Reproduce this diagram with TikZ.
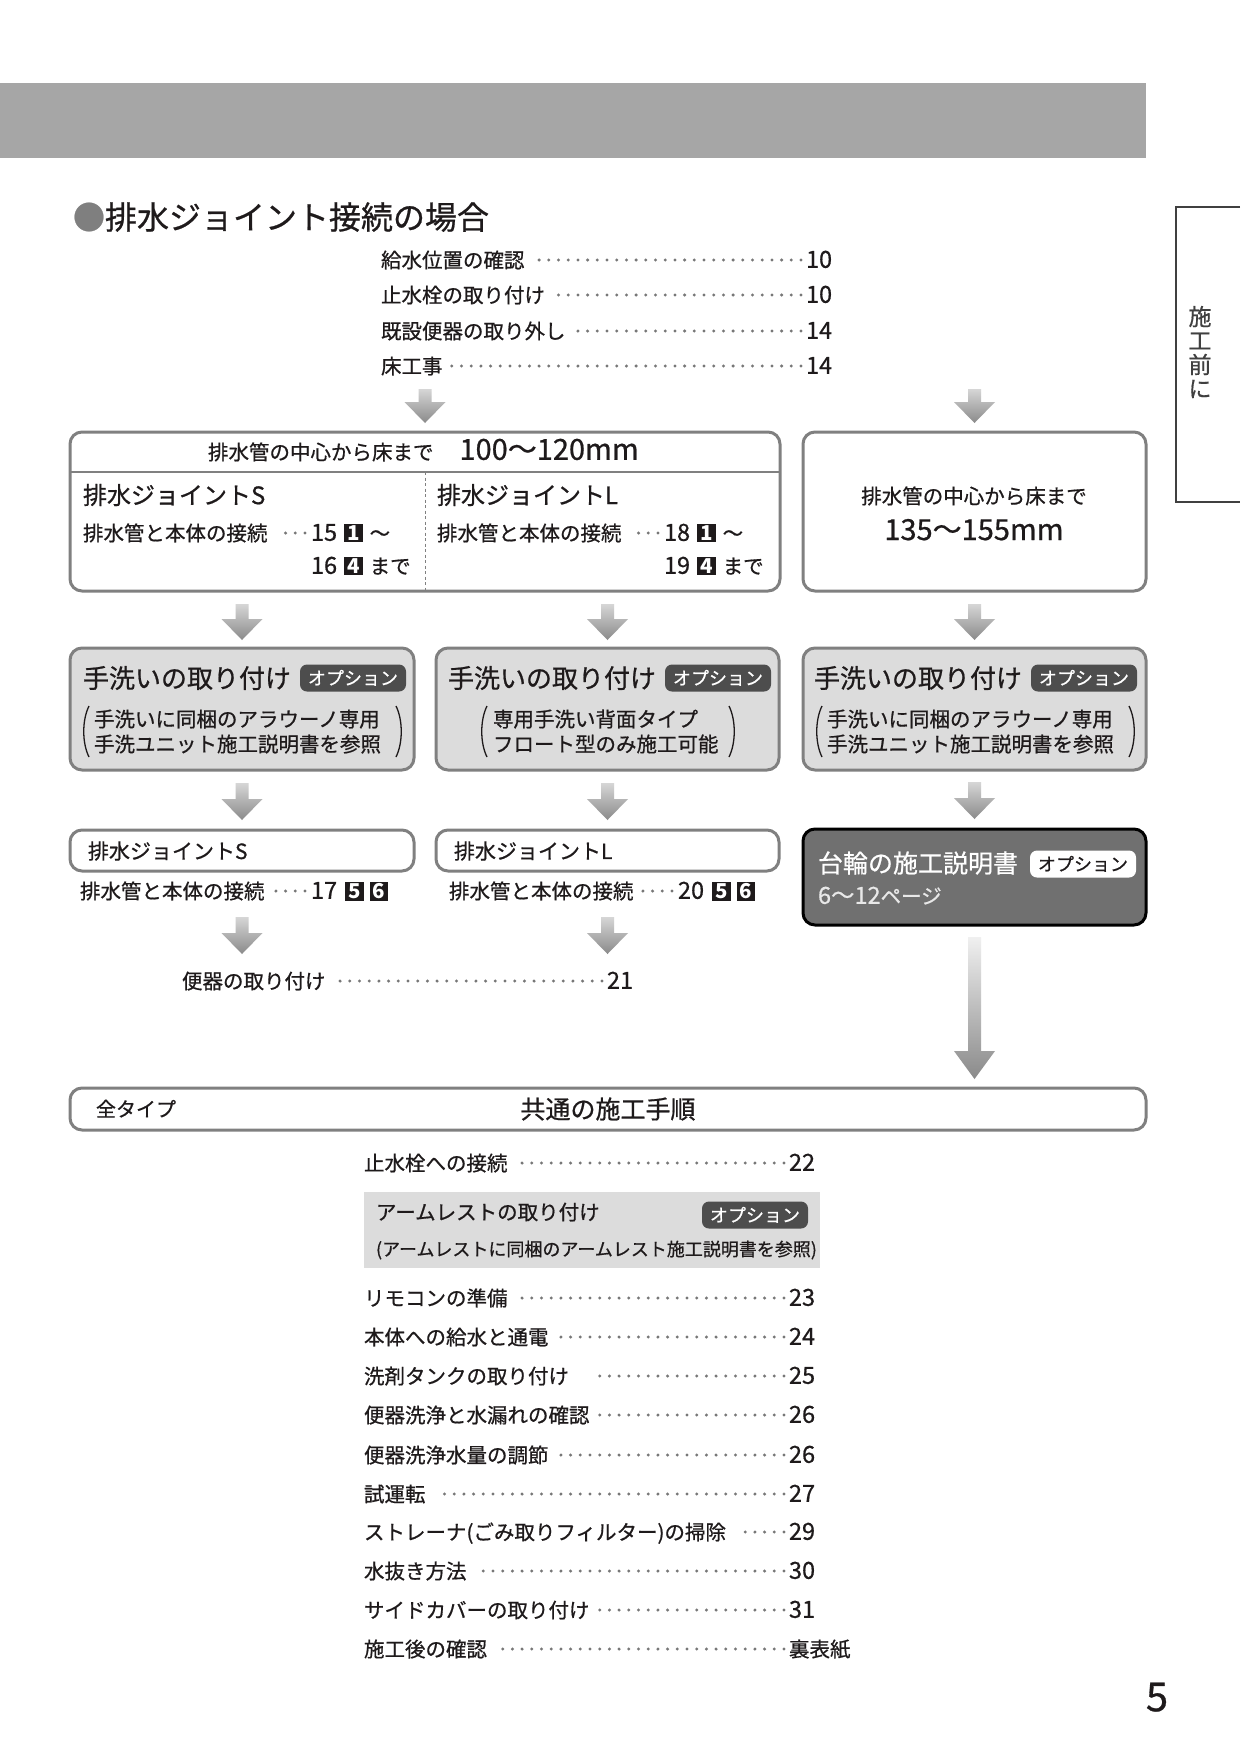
\documentclass[tikz,border=0pt]{standalone}
\usepackage{fontspec}
\setmainfont{Noto Sans CJK JP}[UprightFeatures={FakeBold=0.7}]
\usetikzlibrary{calc}
\definecolor{ink}{HTML}{1E1A1B}
\definecolor{bargray}{HTML}{A6A6A6}
\definecolor{boxgray}{HTML}{808080}
\definecolor{fillgray}{HTML}{DCDCDC}
\definecolor{badgegray}{HTML}{4D4D4D}
\definecolor{darkbox}{HTML}{707070}
\definecolor{dotgray}{HTML}{777777}
\definecolor{arrtop}{HTML}{D6D6D6}
\definecolor{arrbot}{HTML}{8A8A8A}
\definecolor{longtop}{HTML}{F0F0F0}
\definecolor{lighttext}{HTML}{E8E8E8}
\definecolor{tabink}{HTML}{404040}
\definecolor{bulletgray}{HTML}{7F7F7F}
\newcommand{\nsq}[1]{{\setlength{\fboxsep}{1.5pt}\colorbox{ink}{\rule{0pt}{0.76em}\makebox[0.76em]{\textcolor{white}{\bfseries #1}}}}}
\newcommand{\dg}[1]{{\fontsize{23.5pt}{23.5pt}\selectfont #1}}
\newcommand{\flowarrow}[4]{%
  \shade[#1] let \p1=(#3), \p2=(#4) in
    (\x1-6.5pt,\y1) -- (\x1+6.5pt,\y1) -- (\x1+6.5pt,\y2+#2pt) -- (\x1+20.5pt,\y2+#2pt)
    -- (\x1,\y2) -- (\x1-20.5pt,\y2+#2pt) -- (\x1-6.5pt,\y2+#2pt) -- cycle;}
\newcommand{\lpar}[1]{\draw[parenline] (#1,706) .. controls ({#1-7},720) and ({#1-7},743) .. (#1,757);}
\newcommand{\rpar}[1]{\draw[parenline] (#1,706) .. controls ({#1+7},720) and ({#1+7},743) .. (#1,757);}
\tikzset{
  fsz/.code={\pgfmathsetmacro\myfh{0.88*#1}\pgfmathsetmacro\myfd{0.12*#1}%
    \edef\mytmp{\noexpand\tikzset{text height=\myfh pt,text depth=\myfd pt}}\mytmp
    \tikzset{font=\fontsize{#1pt}{#1pt}\selectfont}},
  tx/.style={inner sep=0pt, outer sep=0pt, text=ink},
  flowbox/.style={draw=boxgray, line width=3pt, rounded corners=12pt, inner sep=0pt, outer sep=0pt, anchor=north west, fill=white},
  graybox/.style={flowbox, fill=fillgray},
  optbadge/.style={rounded corners=7pt, fill=badgegray, text=white, inner xsep=8pt, inner ysep=0pt,
     minimum height=27pt, font=\fontsize{18pt}{18pt}\selectfont, text height=15.84pt, text depth=2.16pt, outer sep=0pt},
  dotlead/.style={draw=dotgray, line width=3.3pt, line cap=round, dash pattern=on 0pt off 9.7pt},
  parenline/.style={draw=ink, line width=1.3pt},
  shortarrow/.style={top color=arrtop, bottom color=arrbot},
  longarrow/.style={top color=longtop, bottom color=arrbot},
}
\begin{document}
\begin{tikzpicture}[x=1pt,y=-1pt]
\useasboundingbox (0,0) rectangle (1240,1754);
\fill[white] (0,0) rectangle (1240,1754);
% header bar
\fill[bargray] (0,83) rectangle (1146,158);
% side tab
\draw[tabink, line width=2pt] (1240,207) -- (1176,207) -- (1176,502) -- (1240,502);
\node[inner sep=0pt, text=tabink, align=center, font=\fontsize{23pt}{24pt}\selectfont] (tab) at (1200,352) {施\\工\\前\\に};
% title
\node[tx, fsz=32, anchor=west] (title) at (73,217) {{\color{bulletgray}●}排水ジョイント接続の場合};
% top list
\foreach \yy/\lab/\num [count=\i] in {260/給水位置の確認/10, 295/止水栓の取り付け/10, 331/既設便器の取り外し/14, 366/床工事/14}{
  \node[tx, fsz=20.5, anchor=west] (tl\i) at (381,\yy) {\lab};
  \node[tx, fsz=20.5, anchor=west] (tn\i) at (806,\yy) {\dg{\num}};
  \draw[dotlead] ($(tn\i.west)+(-5,0)$) -- ($(tl\i.east)+(8,0)$);
}
% boxes
\node[flowbox, minimum width=710, minimum height=159] (A) at (70,432) {};
\node[flowbox, minimum width=343, minimum height=159] (B) at (803,432) {};
\draw[boxgray, line width=1.5pt] ($(A.north west)+(0,40)$) -- ($(A.north east)+(0,40)$);
\draw[boxgray, line width=0.9pt, dash pattern=on 3pt off 2.5pt] ($(A.north)+(0,40)$) -- (A.south);
\node[graybox, minimum width=344, minimum height=122] (C1) at (70,648) {};
\node[graybox, minimum width=343, minimum height=122] (C2) at (436,648) {};
\node[graybox, minimum width=343, minimum height=122] (C3) at (803,648) {};
\node[flowbox, minimum width=344, minimum height=41] (D1) at (70,830) {};
\node[flowbox, minimum width=343, minimum height=41] (D2) at (436,830) {};
\node[flowbox, draw=black, fill=darkbox, minimum width=343, minimum height=96] (E) at (803,829) {};
\node[flowbox, minimum width=1076, minimum height=42] (F) at (70,1088) {};
% arrows
\flowarrow{shortarrow}{21}{$(A.north)+(0,-43)$}{$(A.north)+(0,-9)$}
\flowarrow{shortarrow}{21}{$(B.north)+(0,-43)$}{$(B.north)+(0,-9)$}
\flowarrow{shortarrow}{21}{$(C1.north)+(0,-44)$}{$(C1.north)+(0,-8)$}
\flowarrow{shortarrow}{21}{$(C2.north)+(0,-44)$}{$(C2.north)+(0,-8)$}
\flowarrow{shortarrow}{21}{$(C3.north)+(0,-44)$}{$(C3.north)+(0,-8)$}
\flowarrow{shortarrow}{21}{$(D1.north)+(0,-47)$}{$(D1.north)+(0,-10)$}
\flowarrow{shortarrow}{21}{$(D2.north)+(0,-47)$}{$(D2.north)+(0,-10)$}
\flowarrow{shortarrow}{21}{$(E.north)+(0,-47)$}{$(E.north)+(0,-10)$}
\flowarrow{shortarrow}{21}{$(D1.south)+(0,46)$}{$(D1.south)+(0,83)$}
\flowarrow{shortarrow}{21}{$(D2.south)+(0,46)$}{$(D2.south)+(0,83)$}
\flowarrow{longarrow}{28}{$(E.south)+(0,12)$}{$(F.north -| E.south)+(0,-9)$}
% box A content
\node[tx, fsz=20.5, anchor=west] (hdrA) at (208,452) {排水管の中心から床まで\hspace{26pt}{\fontsize{29pt}{29pt}\selectfont 100〜120mm}};
\node[tx, fsz=24, anchor=west] (jS) at (83,495) {排水ジョイントS};
\node[tx, fsz=24, anchor=west] (jL) at (437,495) {排水ジョイントL};
\node[tx, fsz=20.5, anchor=west] (sl1) at (83,533) {排水管と本体の接続};
\node[tx, fsz=20.5, anchor=west] (sn1) at (311,533) {\dg{15}\hspace{7pt}\nsq{1}\hspace{7pt}〜};
\node[tx, fsz=20.5, anchor=west] (sn2) at (311,566) {\dg{16}\hspace{7pt}\nsq{4}\hspace{7pt}まで};
\draw[dotlead] ($(sn1.west)+(-6,0)$) -- ($(sl1.east)+(12,0)$);
\node[tx, fsz=20.5, anchor=west] (rl1) at (437,533) {排水管と本体の接続};
\node[tx, fsz=20.5, anchor=west] (rn1) at (664,533) {\dg{18}\hspace{7pt}\nsq{1}\hspace{7pt}〜};
\node[tx, fsz=20.5, anchor=west] (rn2) at (664,566) {\dg{19}\hspace{7pt}\nsq{4}\hspace{7pt}まで};
\draw[dotlead] ($(rn1.west)+(-6,0)$) -- ($(rl1.east)+(12,0)$);
% box B content
\node[tx, fsz=20.5] (bB1) at (974,496) {排水管の中心から床まで};
\node[tx, fsz=29] (bB2) at (974,529) {135〜155mm};
% C boxes
\node[tx, fsz=26, anchor=west] (ct1) at (83,678) {手洗いの取り付け};
\node[tx, fsz=26, anchor=west] (ct2) at (448,678) {手洗いの取り付け};
\node[tx, fsz=26, anchor=west] (ct3) at (814,678) {手洗いの取り付け};
\node[optbadge, anchor=east] (cb1) at (406,678) {オプション};
\node[optbadge, anchor=east] (cb2) at (771,678) {オプション};
\node[optbadge, anchor=east] (cb3) at (1137,678) {オプション};
\node[tx, fsz=20.5, anchor=west] (c1a) at (94,719) {手洗いに同梱のアラウーノ専用};
\node[tx, fsz=20.5, anchor=west] (c1b) at (94,744) {手洗ユニット施工説明書を参照};
\node[tx, fsz=20.5, anchor=west] (c2a) at (493,719) {専用手洗い背面タイプ};
\node[tx, fsz=20.5, anchor=west] (c2b) at (493,744) {フロート型のみ施工可能};
\node[tx, fsz=20.5, anchor=west] (c3a) at (827,719) {手洗いに同梱のアラウーノ専用};
\node[tx, fsz=20.5, anchor=west] (c3b) at (827,744) {手洗ユニット施工説明書を参照};
\lpar{89}\rpar{396}
\lpar{487}\rpar{729}
\lpar{822}\rpar{1129}
% D row
\node[tx, fsz=21, anchor=west] (dS) at (88,851) {排水ジョイントS};
\node[tx, fsz=21, anchor=west] (dL) at (454,851) {排水ジョイントL};
\node[tx, fsz=20.5, anchor=west] (dl1) at (80,891) {排水管と本体の接続};
\node[tx, fsz=20.5, anchor=west] (dn1) at (311,891) {\dg{17}\hspace{8pt}\nsq{5}\hspace{6pt}\nsq{6}};
\draw[dotlead] ($(dn1.west)+(-6,0)$) -- ($(dl1.east)+(9,0)$);
\node[tx, fsz=20.5, anchor=west] (dl2) at (449,891) {排水管と本体の接続};
\node[tx, fsz=20.5, anchor=west] (dn2) at (678,891) {\dg{20}\hspace{8pt}\nsq{5}\hspace{6pt}\nsq{6}};
\draw[dotlead] ($(dn2.west)+(-6,0)$) -- ($(dl2.east)+(9,0)$);
% E box
\node[tx, fsz=25, anchor=west, text=white] (et) at (818,863) {台輪の施工説明書};
\node[optbadge, anchor=east, fill=white, text=ink] (eb) at (1136,864) {オプション};
\node[tx, fsz=20.5, anchor=west, text=lighttext] (ep) at (818,896) {\dg{6〜12}ページ};
% toilet install
\node[tx, fsz=20.5, anchor=west] (bl) at (182,981) {便器の取り付け};
\node[tx, fsz=20.5, anchor=west] (bn) at (607,981) {\dg{21}};
\draw[dotlead] ($(bn.west)+(-5,0)$) -- ($(bl.east)+(10,0)$);
% F box
\node[tx, fsz=20, anchor=west] (ft1) at (96,1109) {全タイプ};
\node[tx, fsz=25] (ft2) at (608,1109) {共通の施工手順};
% bottom list
\node[fill=fillgray, minimum width=456, minimum height=76, anchor=north west, inner sep=0pt, outer sep=0pt] (G) at (364,1192) {};
\node[tx, fsz=20.5, anchor=west] (ga) at (376,1212) {アームレストの取り付け};
\node[optbadge, anchor=east] (gb) at (808,1215) {オプション};
\node[tx, fsz=18, anchor=west] (gc) at (376,1249) {(アームレストに同梱のアームレスト施工説明書を参照)};
\foreach \yy/\lab/\num/\gap [count=\i] in {1163/止水栓への接続/\dg{22}/12, 1298/リモコンの準備/\dg{23}/12, 1337/本体への給水と通電/\dg{24}/6, 1376/洗剤タンクの取り付け/\dg{25}/28, 1415/便器洗浄と水漏れの確認/\dg{26}/9, 1455/便器洗浄水量の調節/\dg{26}/6, 1494/試運転/\dg{27}/10, 1532/{ストレーナ(ごみ取りフィルター)の掃除}/\dg{29}/12, 1571/水抜き方法/\dg{30}/8, 1610/サイドカバーの取り付け/\dg{31}/10, 1649/施工後の確認/裏表紙/8}{
  \node[tx, fsz=20.5, anchor=west] (bl\i) at (364,\yy) {\lab};
  \node[tx, fsz=20.5, anchor=west] (bn\i) at (789,\yy) {\num};
  \draw[dotlead] ($(bn\i.west)+(-5,0)$) -- ($(bl\i.east)+(\gap,0)$);
}
% page number
\node[tx, fsz=40] (pg) at (1157,1696) {5};
\end{tikzpicture}
\end{document}
